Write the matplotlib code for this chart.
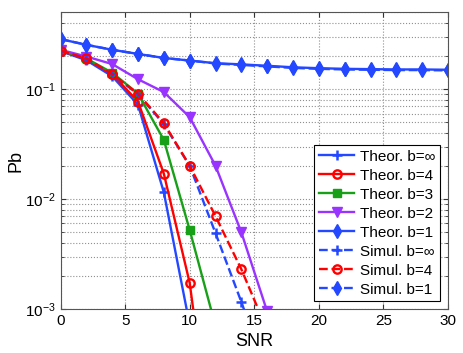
import numpy as np
import matplotlib
matplotlib.use("Agg")
import matplotlib.pyplot as plt

snr = [0, 2, 4, 6, 8, 10, 12, 14, 16, 18, 20, 22, 24, 26, 28, 30]

theor_inf = [0.222, 0.183, 0.131, 0.072, 0.0115, 0.00072, 0.00002]
theor_b4 = [0.224, 0.187, 0.137, 0.077, 0.017, 0.00173, 0.00003]
theor_b3 = [0.225, 0.19, 0.141, 0.091, 0.0345, 0.00524, 0.0007]
theor_b2 = [0.228, 0.198, 0.169, 0.123, 0.094, 0.0556, 0.0201, 0.00499, 0.00095]
theor_b1 = [0.285, 0.253, 0.228, 0.209, 0.192, 0.182, 0.172, 0.168, 0.163,
            0.158, 0.155, 0.153, 0.152, 0.151, 0.151, 0.150]

simul_inf = [0.222, 0.188, 0.136, 0.090, 0.048, 0.0201, 0.0049, 0.00116, 0.00025]
simul_b4 = [0.224, 0.19, 0.137, 0.091, 0.049, 0.0201, 0.0070, 0.0023, 0.00064]
simul_b1 = [0.285, 0.253, 0.228, 0.209, 0.192, 0.182, 0.171, 0.166, 0.161,
            0.156, 0.153, 0.151, 0.150, 0.149, 0.149, 0.148]

BLUE = '#2448ff'
RED = '#ff0000'
GREEN = '#18a018'
PURPLE = '#9933ff'

plt.rcParams['font.family'] = ['Liberation Sans', 'DejaVu Sans']

fig = plt.figure(figsize=(4.63, 3.53), dpi=100)
ax = fig.add_axes([0.1307, 0.1246, 0.8369, 0.8406])

lw = 1.7
ms = 6
def n(a):
    return snr[:len(a)]

ax.plot(n(theor_inf), theor_inf, '-', color=BLUE, lw=lw, marker='+', ms=ms+1, mew=1.8, label='Theor. b=∞')
ax.plot(n(theor_b4), theor_b4, '-', color=RED, lw=lw, marker='o', ms=ms, mew=1.7, mfc='none', label='Theor. b=4')
ax.plot(n(theor_b3), theor_b3, '-', color=GREEN, lw=lw, marker='s', ms=ms-0.5, mfc=GREEN, label='Theor. b=3')
ax.plot(n(theor_b2), theor_b2, '-', color=PURPLE, lw=lw, marker='v', ms=ms+1, mfc=PURPLE, label='Theor. b=2')
ax.plot(n(theor_b1), theor_b1, '-', color=BLUE, lw=lw, marker='d', ms=ms+1, mfc=BLUE, label='Theor. b=1')
ax.plot(n(simul_inf), simul_inf, '--', color=BLUE, lw=lw, marker='+', ms=ms+1, mew=1.8, label='Simul. b=∞')
ax.plot(n(simul_b4), simul_b4, '--', color=RED, lw=lw, marker='o', ms=ms, mew=1.7, mfc='none', label='Simul. b=4')
ax.plot(n(simul_b1), simul_b1, '--', color=BLUE, lw=lw, marker='d', ms=ms+1, mfc=BLUE, label='Simul. b=1')

ax.set_yscale('log')
ax.set_xlim(0, 30)
ax.set_ylim(1e-3, 0.5)
ax.set_xticks([0, 5, 10, 15, 20, 25, 30])
ax.grid(True, which='major', axis='x', linestyle=':', color='#909090', lw=0.8)
ax.grid(True, which='both', axis='y', linestyle=':', color='#909090', lw=0.8)
ax.tick_params(which='both', direction='in', top=True, right=True, labelsize=11, colors='#333333', labelcolor='black')
for s in ax.spines.values():
    s.set_color('#555555')
    s.set_linewidth(0.8)

ax.set_xlabel('SNR', fontsize=13, labelpad=4)
ax.set_ylabel('Pb', fontsize=13)
ax.yaxis.set_label_coords(-0.092, 0.5)

leg = ax.legend(loc='lower right', fontsize=11, fancybox=False, framealpha=1,
                edgecolor='black', handlelength=2.3, handletextpad=0.4,
                borderpad=0.3, labelspacing=0.33, borderaxespad=0.5)
leg.get_frame().set_linewidth(0.8)

fig.savefig('out.png', dpi=100)
